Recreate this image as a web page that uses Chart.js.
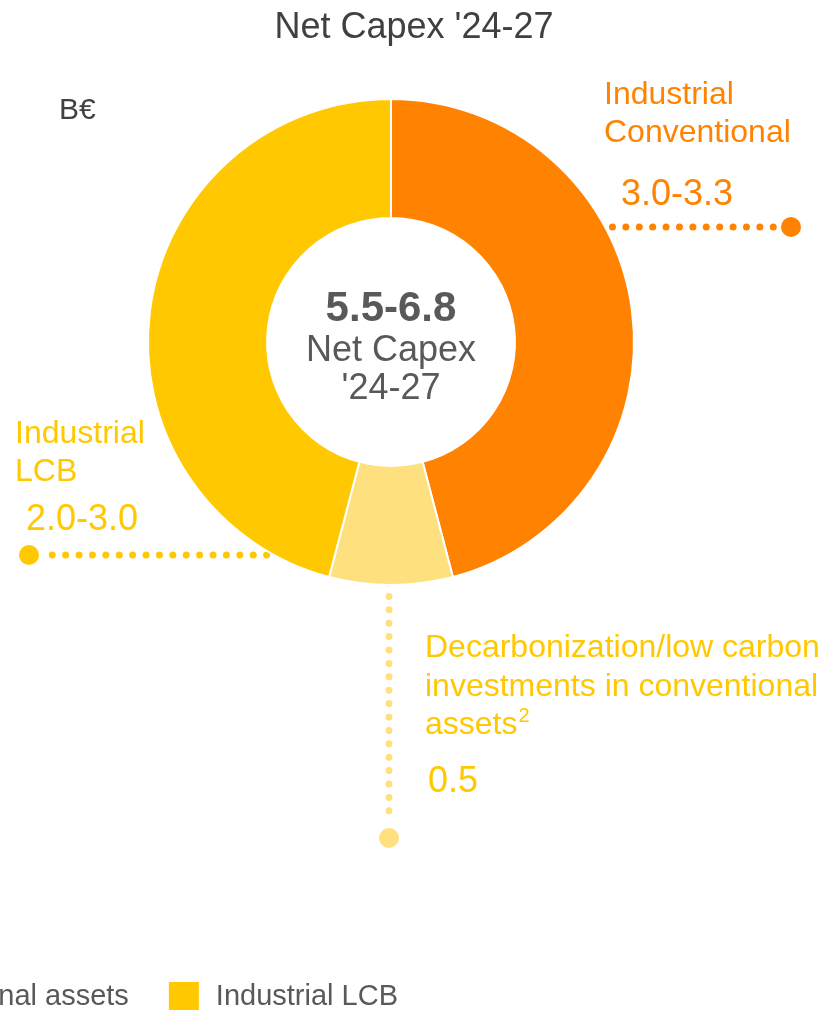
<!DOCTYPE html>
<html>
<head>
<meta charset="utf-8">
<script src="https://cdn.jsdelivr.net/npm/chart.js@4/dist/chart.umd.min.js"></script>
<style>
  html, body { margin: 0; padding: 0; background: #fff; overflow: hidden; }
  #wrap { position: relative; width: 818px; height: 1010px; }
</style>
</head>
<body>
<div id="wrap"><canvas id="capex-chart" width="818" height="1010"></canvas></div>
<script>
// Net Capex '24-27 split (B€)
const chartTitle = "Net Capex '24-27";
const unitLabel = "B€";
const segmentLabels = [
  "Industrial Conventional",
  "Decarbonization/low carbon investments in conventional assets",
  "Industrial LCB",
];
const segmentValues = [2.8, 0.5, 2.8]; // slice sizes as drawn
const rangeLabels = ["3.0-3.3", "0.5", "2.0-3.0"];
const totalRange = "5.5-6.8";
const centerLines = ["Net Capex", "'24-27"];

const COLORS = ["#ff8300", "#ffe07f", "#ffc800"];
const TEXT_COLORS = ["#ff8300", "#ffc800", "#ffc800"];
const FONT = "'Liberation Sans', Arial, sans-serif";
const DY = 2; // canvas "middle" sits a touch high vs. cap centre

// ── callout layout (label text, value, leader line) ─────────
const callouts = [
  {
    lines: ["Industrial", "Conventional"], x: 604, lineY: [93, 131],
    valueX: 621, valueY: 193,
    lead: { dir: "right", y: 227, end: 791 },
  },
  {
    lines: ["Decarbonization/low carbon", "investments in conventional", "assets"], sup: "2",
    x: 425, lineY: [646, 685, 723],
    valueX: 428, valueY: 780,
    lead: { dir: "down", x: 389, end: 838 },
  },
  {
    lines: ["Industrial", "LCB"], x: 15, lineY: [432, 470],
    valueX: 26, valueY: 518,
    lead: { dir: "left", y: 555, end: 29 },
  },
];

function dotted(ctx, x1, y1, x2, y2, color) {
  ctx.save();
  ctx.strokeStyle = color;
  ctx.lineWidth = 7;
  ctx.lineCap = "round";
  ctx.setLineDash([0, 13.4]);
  ctx.beginPath();
  ctx.moveTo(x1, y1);
  ctx.lineTo(x2, y2);
  ctx.stroke();
  ctx.restore();
}

function dot(ctx, x, y, color) {
  ctx.fillStyle = color;
  ctx.beginPath();
  ctx.arc(x, y, 10, 0, Math.PI * 2);
  ctx.fill();
}

const calloutPlugin = {
  id: "callouts",
  beforeDatasetsDraw(chart) {
    const ctx = chart.ctx;
    const arc = chart.getDatasetMeta(0).data[0];
    const { x: cx, y: cy, outerRadius } = arc.getProps(["x", "y", "outerRadius"], true);
    callouts.forEach((c, i) => {
      const color = COLORS[i];
      const l = c.lead;
      if (l.dir === "down") {
        const y0 = cy + outerRadius - 2;
        dotted(ctx, l.x, y0, l.x, l.end - 16, color);
        dot(ctx, l.x, l.end, color);
      } else {
        const dy = l.y - cy;
        const dx = Math.sqrt(Math.max(outerRadius * outerRadius - dy * dy, 0));
        const sign = l.dir === "right" ? 1 : -1;
        const x0 = cx + sign * (dx - 6);
        dotted(ctx, x0, l.y, l.end - sign * 16, l.y, color);
        dot(ctx, l.end, l.y, color);
      }
    });
  },
  afterDraw(chart) {
    const ctx = chart.ctx;
    const arc = chart.getDatasetMeta(0).data[0];
    const { x: cx, y: cy } = arc.getProps(["x", "y"], true);
    ctx.save();
    ctx.textBaseline = "middle";

    // title + unit
    ctx.fillStyle = "#404040";
    ctx.textAlign = "center";
    ctx.font = `36px ${FONT}`;
    ctx.fillText(chartTitle, 414, 26 + DY);
    ctx.textAlign = "left";
    ctx.font = `30px ${FONT}`;
    ctx.fillText(unitLabel, 59, 109 + DY);

    // centre of the doughnut
    ctx.fillStyle = "#595959";
    ctx.textAlign = "center";
    ctx.font = `bold 42px ${FONT}`;
    ctx.fillText(totalRange, cx, cy - 35 + DY);
    ctx.font = `36px ${FONT}`;
    ctx.fillText(centerLines[0], cx, cy + 7 + DY);
    ctx.fillText(centerLines[1], cx, cy + 45 + DY);

    // callout texts
    ctx.textAlign = "left";
    callouts.forEach((c, i) => {
      ctx.fillStyle = TEXT_COLORS[i];
      ctx.font = `32px ${FONT}`;
      c.lines.forEach((t, k) => ctx.fillText(t, c.x, c.lineY[k] + DY));
      if (c.sup) {
        const last = c.lines[c.lines.length - 1];
        const w = ctx.measureText(last).width;
        ctx.font = `20px ${FONT}`;
        ctx.fillText(c.sup, c.x + w + 1, c.lineY[c.lineY.length - 1] - 9 + DY);
      }
      ctx.font = `36px ${FONT}`;
      ctx.fillText(rangeLabels[i], c.valueX, c.valueY + DY);
    });

    // legend row, laid out from its right end (left part runs off the page)
    ctx.font = `29px ${FONT}`;
    let x = 398;
    const ly = 995 + DY;
    for (let i = segmentLabels.length - 1; i >= 0; i--) {
      const w = ctx.measureText(segmentLabels[i]).width;
      ctx.fillStyle = "#595959";
      ctx.fillText(segmentLabels[i], x - w, ly);
      x -= w + 17;
      ctx.fillStyle = COLORS[i];
      ctx.fillRect(x - 30, 982, 30, 28);
      x -= 30 + 40;
    }
    ctx.restore();
  },
};

new Chart(document.getElementById("capex-chart"), {
  type: "doughnut",
  data: {
    labels: segmentLabels,
    datasets: [
      {
        data: segmentValues,
        backgroundColor: COLORS,
        borderColor: "#ffffff",
        borderWidth: 2,
      },
    ],
  },
  options: {
    responsive: false,
    animation: false,
    cutout: "51%",
    layout: { padding: { left: 147, right: 183, top: 98, bottom: 424 } },
    plugins: {
      legend: { display: false },
      title: { display: false },
      tooltip: { enabled: false },
    },
  },
  plugins: [calloutPlugin],
});
</script>
</body>
</html>
